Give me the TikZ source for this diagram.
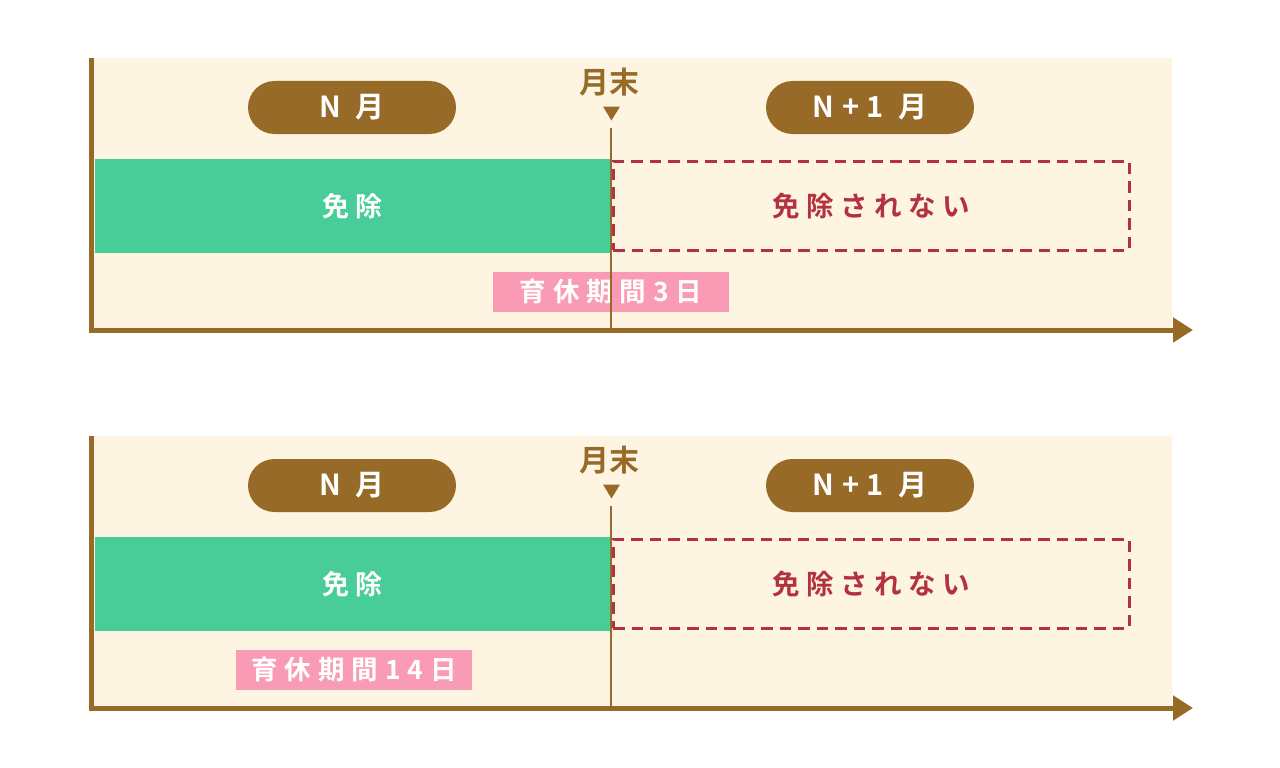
\documentclass[tikz,border=0pt]{standalone}
\usepackage{fontspec}
\setmainfont{Noto Sans CJK JP}[BoldFont={Noto Sans CJK JP Bold}]
\usetikzlibrary{arrows.meta}
\definecolor{cream}{HTML}{FDF4E1}
\definecolor{brownc}{HTML}{976A27}
\definecolor{greenc}{HTML}{48CD98}
\definecolor{redc}{HTML}{B3323F}
\definecolor{pinkc}{HTML}{F99BB5}
\tikzset{
  bg/.style={fill=cream, draw=none},
  pill/.style={fill=brownc, text=white, rounded corners=26.5pt, minimum width=208pt, minimum height=53pt, inner sep=0pt, font=\bfseries\fontsize{29}{29}\selectfont\addfontfeature{LetterSpace=27}},
  greenbar/.style={fill=greenc, text=white, minimum width=515pt, minimum height=94pt, inner sep=0pt, font=\bfseries\fontsize{27}{27}\selectfont\addfontfeature{LetterSpace=20}},
  dashbox/.style={draw=redc, dash pattern=on 11.5pt off 7pt, line width=3pt, text=redc, minimum width=516pt, minimum height=89pt, inner sep=0pt, font=\bfseries\fontsize{27.5}{27.5}\selectfont\addfontfeature{LetterSpace=24}},
  pinklabel/.style={fill=pinkc, text=white, minimum width=236pt, minimum height=40pt, inner sep=0pt, font=\bfseries\fontsize{26.5}{26.5}\selectfont\addfontfeature{LetterSpace=26}},
  monthend/.style={text=brownc, inner sep=0pt, font=\bfseries\fontsize{30}{30}\selectfont},
  marker/.style={fill=brownc, draw=none},
  axis/.style={draw=brownc, line width=5pt},
  vline/.style={draw=brownc, line width=2pt},
}
\newcommand\drawpanel[4]{%
  \begin{scope}[yshift=#2]
    \fill[bg] (91,58) rectangle (1172,330);
    \coordinate (top#1) at (91,58);
    \coordinate (left#1) at (88.5,330);
    \coordinate (tip#1) at (1193,330);
    \coordinate (lbot#1) at (91,332.5);
    \node[greenbar] (g#1) at (352.5,206) {\raisebox{-1pt}{免除}};
    \node[dashbox] (d#1) at (871,205.5) {\raisebox{-1.5pt}{免除されない}};
    \node[pill] (n#1) at (352,107.5) {N 月};
    \node[pill] (m#1) at (870,107.5) {N+1 月};
    \node[monthend] (me#1) at (609,82) {月末};
    \fill[marker] (603,106.5) -- (620,106.5) -- (611.5,120.5) -- cycle;
    \coordinate (ls#1) at (610.5,128);
    \coordinate (le#1) at (610.5,330);
    \node[pinklabel] (p#1) at (#3,291.5) {#4};
    \draw[vline] (ls#1) -- (le#1);
    \draw[axis] (top#1) -- (lbot#1);
    \draw[axis, -{Triangle[length=20pt,width=24pt]}] (left#1) -- (tip#1);
  \end{scope}
}
\begin{document}
\begin{tikzpicture}[x=1pt,y=-1pt]
  \useasboundingbox[fill=white] (0,0) rectangle (1280,768);
  \drawpanel{a}{0pt}{611}{育休期間3日}
  \drawpanel{b}{-378pt}{354}{育休期間14日}
\end{tikzpicture}
\end{document}
